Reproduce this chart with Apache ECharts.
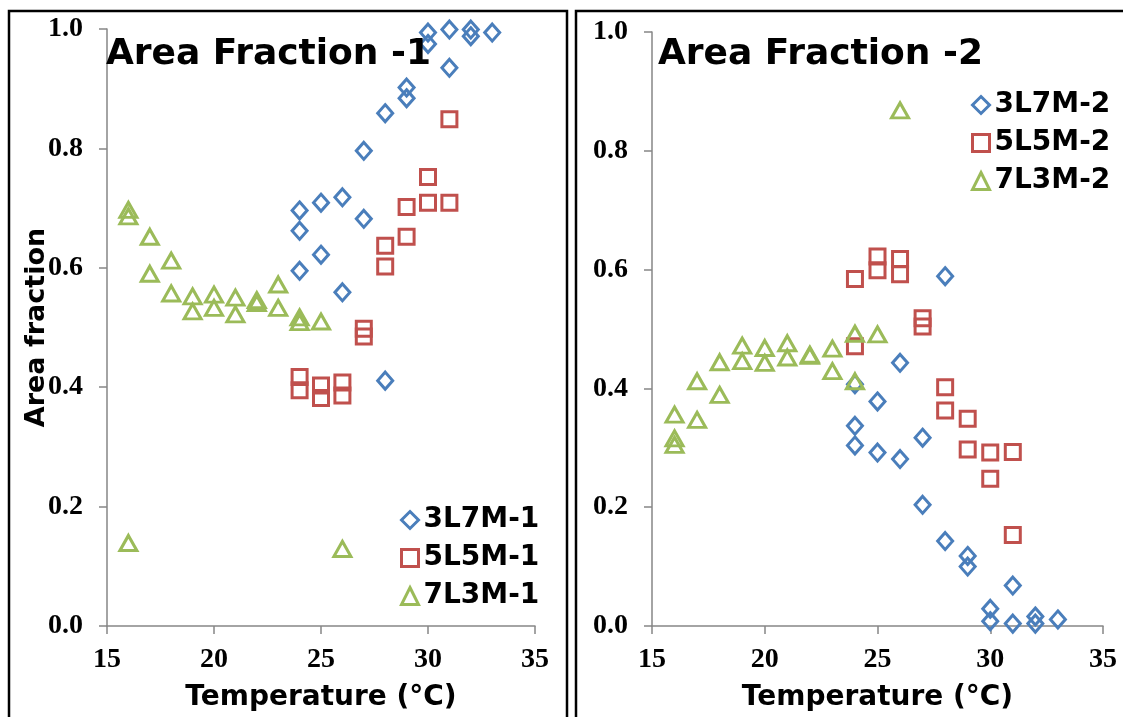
<!DOCTYPE html>
<html><head><meta charset="utf-8">
<script src="https://cdn.jsdelivr.net/npm/echarts@6/dist/echarts.min.js"></script>
<style>html,body{margin:0;padding:0;background:#fff}#c{width:1123px;height:717px}</style>
</head><body><div id="c"></div>
<script>
// ---- data ----
const xTickValues = [15, 20, 25, 30, 35];
const yTickValues = [0.0, 0.2, 0.4, 0.6, 0.8, 1.0];
const panelTitles = ['Area Fraction -1', 'Area Fraction -2'];
const xAxisTitle = 'Temperature (°C)';
const yAxisTitle = 'Area fraction';

const names1 = ['3L7M-1', '5L5M-1', '7L3M-1'];
const names2 = ['3L7M-2', '5L5M-2', '7L3M-2'];

const s3L7M_1 = [[24,0.696],[24,0.662],[24,0.595],[25,0.709],[25,0.622],[26,0.718],[26,0.559],[27,0.796],[27,0.682],[28,0.859],[28,0.411],[29,0.902],[29,0.884],[30,0.994],[30,0.975],[31,0.999],[31,0.935],[32,0.999],[32,0.988],[33,0.994]];
const s5L5M_1 = [[24,0.417],[24,0.395],[25,0.403],[25,0.382],[26,0.408],[26,0.386],[27,0.498],[27,0.485],[28,0.637],[28,0.602],[29,0.702],[29,0.652],[30,0.752],[30,0.709],[31,0.849],[31,0.709]];
const s7L3M_1 = [[16,0.697],[16,0.686],[16,0.139],[17,0.652],[17,0.590],[18,0.612],[18,0.557],[19,0.552],[19,0.527],[20,0.555],[20,0.533],[21,0.550],[21,0.522],[22,0.546],[22,0.541],[23,0.572],[23,0.533],[24,0.517],[24,0.509],[25,0.510],[26,0.129]];

const s3L7M_2 = [[24,0.407],[24,0.337],[24,0.304],[25,0.378],[25,0.292],[26,0.443],[26,0.281],[27,0.317],[27,0.204],[28,0.589],[28,0.143],[29,0.118],[29,0.100],[30,0.029],[30,0.008],[31,0.068],[31,0.004],[32,0.016],[32,0.004],[33,0.011]];
const s5L5M_2 = [[24,0.584],[24,0.471],[25,0.622],[25,0.599],[26,0.618],[26,0.592],[27,0.518],[27,0.504],[28,0.402],[28,0.363],[29,0.349],[29,0.297],[30,0.292],[30,0.248],[31,0.293],[31,0.153]];
const s7L3M_2 = [[16,0.356],[16,0.316],[16,0.305],[17,0.412],[17,0.347],[18,0.444],[18,0.389],[19,0.472],[19,0.446],[20,0.468],[20,0.443],[21,0.476],[21,0.452],[22,0.457],[22,0.455],[23,0.467],[23,0.429],[24,0.492],[24,0.412],[25,0.491],[26,0.868]];

// ---- styles ----
const BLUE = '#4a7ebb', RED = '#c0504d', GREEN = '#9bbb59';
const AXIS_GRAY = '#868686';
const SERIF = '"Liberation Serif", "Times New Roman", serif';
const HEAVY = '"DejaVu Sans", sans-serif';

function xAxisDef(gi) {
  return {
    type: 'value', gridIndex: gi, min: xTickValues[0], max: xTickValues[xTickValues.length - 1],
    interval: xTickValues[1] - xTickValues[0],
    name: xAxisTitle, nameLocation: 'middle', nameGap: 58,
    nameTextStyle: { fontFamily: HEAVY, fontWeight: 'bold', fontSize: 28, color: '#000' },
    axisLine: { show: true, lineStyle: { color: AXIS_GRAY, width: 1.5 } },
    axisTick: { show: true, length: 8, lineStyle: { color: AXIS_GRAY, width: 1.5 } },
    axisLabel: { margin: 20, fontFamily: SERIF, fontWeight: 'bold', fontSize: 28, color: '#000' },
    splitLine: { show: false }
  };
}
function yAxisDef(gi, withName) {
  return {
    type: 'value', gridIndex: gi, min: yTickValues[0], max: yTickValues[yTickValues.length - 1],
    interval: yTickValues[1] - yTickValues[0],
    name: withName ? yAxisTitle : '', nameLocation: 'middle', nameGap: 57, nameRotate: 90,
    nameMoveOverlap: false,
    nameTextStyle: { fontFamily: HEAVY, fontWeight: 'bold', fontSize: 27, color: '#000' },
    axisLine: { show: true, onZero: false, lineStyle: { color: AXIS_GRAY, width: 1.5 } },
    axisTick: { show: true, length: 8, lineStyle: { color: AXIS_GRAY, width: 1.5 } },
    axisLabel: { margin: 24, fontFamily: SERIF, fontWeight: 'bold', fontSize: 28, color: '#000',
      formatter: v => v.toFixed(1) },
    splitLine: { show: false }
  };
}
function sc(name, data, gi, symbol, size, color) {
  return {
    type: 'scatter', name, data, xAxisIndex: gi, yAxisIndex: gi,
    symbol, symbolSize: size,
    itemStyle: { color: 'rgba(255,255,255,0)', borderColor: color, borderWidth: 3, opacity: 1 },
    emphasis: { disabled: true }
  };
}
function legendDef(names, left, top) {
  return {
    data: names, orient: 'vertical', left, top,
    itemWidth: 17, itemHeight: 17, itemGap: 10,
    itemStyle: { borderWidth: 3 },
    textStyle: { fontFamily: HEAVY, fontWeight: 'bold', fontSize: 28, lineHeight: 28, color: '#000' },
    selectedMode: false
  };
}

const chart = echarts.init(document.getElementById('c'), null, { renderer: 'canvas' });
chart.setOption({
  animation: false,
  backgroundColor: '#fff',
  title: [
    { text: panelTitles[0], left: 106, top: 37, textStyle: { fontFamily: HEAVY, fontWeight: 'bold', fontSize: 36, color: '#000' }, padding: 0 },
    { text: panelTitles[1], left: 658, top: 37, textStyle: { fontFamily: HEAVY, fontWeight: 'bold', fontSize: 36, color: '#000' }, padding: 0 }
  ],
  grid: [
    { left: 107, top: 29, width: 428, height: 598 },
    { left: 652, top: 32, width: 451, height: 595 }
  ],
  xAxis: [xAxisDef(0), xAxisDef(1)],
  yAxis: [yAxisDef(0, true), yAxisDef(1, false)],
  legend: [legendDef(names1, 395, 501), legendDef(names2, 966, 86)],
  series: [
    sc(names1[0], s3L7M_1, 0, 'diamond', [15, 17], BLUE),
    sc(names1[1], s5L5M_1, 0, 'rect', 15, RED),
    sc(names1[2], s7L3M_1, 0, 'triangle', [17, 15], GREEN),
    sc(names2[0], s3L7M_2, 1, 'diamond', [15, 17], BLUE),
    sc(names2[1], s5L5M_2, 1, 'rect', 15, RED),
    sc(names2[2], s7L3M_2, 1, 'triangle', [17, 15], GREEN)
  ],
  graphic: [
    { type: 'polyline', shape: { points: [[9, 717], [9, 11], [567, 11], [567, 717]] }, style: { stroke: '#000', lineWidth: 2.5, fill: null }, silent: true },
    { type: 'polyline', shape: { points: [[576, 717], [576, 11], [1123, 11]] }, style: { stroke: '#000', lineWidth: 2.5, fill: null }, silent: true }
  ]
});
</script>
</body></html>
